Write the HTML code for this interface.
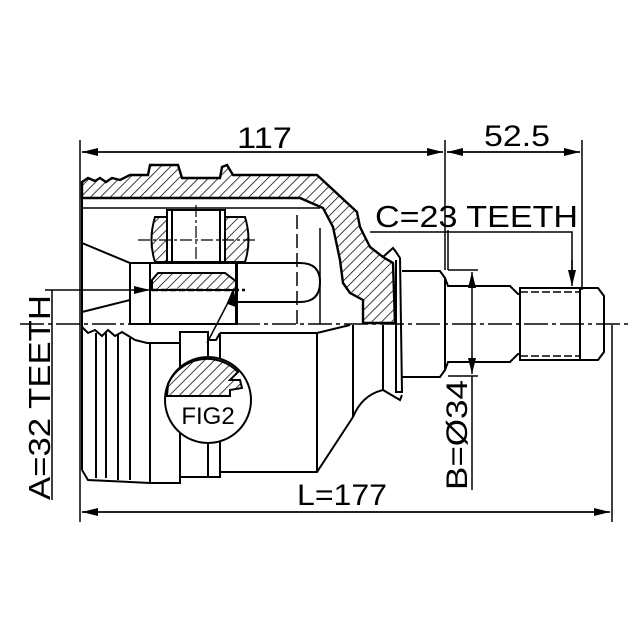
<!DOCTYPE html>
<html><head><style>body{margin:0;background:#fff}svg{display:block}</style></head><body>
<svg width="640" height="640" viewBox="0 0 640 640" xmlns="http://www.w3.org/2000/svg" font-family="Liberation Sans, sans-serif">
<defs>
<pattern id="h" width="7" height="7" patternUnits="userSpaceOnUse" patternTransform="rotate(45)">
<line x1="0" y1="0" x2="0" y2="7" stroke="#000" stroke-width="1.5"/></pattern>
<marker id="a" markerWidth="16" markerHeight="8" refX="16" refY="4" orient="auto" markerUnits="userSpaceOnUse"><path d="M0,0 L16,4 L0,8z" fill="#000"/></marker>
</defs>
<g stroke="#000" fill="none" stroke-width="1.5">
<line x1="80" y1="140" x2="80" y2="522"/>
<line x1="445" y1="140" x2="445" y2="270"/>
<line x1="582" y1="140" x2="582" y2="290"/>
<line x1="612" y1="325" x2="612" y2="522"/>
<line x1="82" y1="152" x2="443" y2="152" marker-end="url(#a)"/>
<line x1="443" y1="152" x2="82" y2="152" marker-end="url(#a)"/>
<line x1="447" y1="152" x2="580" y2="152" marker-end="url(#a)"/>
<line x1="580" y1="152" x2="447" y2="152" marker-end="url(#a)"/>
<line x1="82" y1="512" x2="610" y2="512" marker-end="url(#a)"/>
<line x1="610" y1="512" x2="82" y2="512" marker-end="url(#a)"/>
<line x1="52" y1="290" x2="52" y2="500"/>
<line x1="45" y1="290" x2="150" y2="290" marker-end="url(#a)"/>
<polyline points="370,232 572,232 572,283"/>
<line x1="572" y1="260" x2="572" y2="286" marker-end="url(#a)"/>
<line x1="448" y1="270" x2="478" y2="270"/><line x1="448" y1="376" x2="478" y2="376"/>
<line x1="472" y1="324" x2="472" y2="272" marker-end="url(#a)"/>
<line x1="472" y1="324" x2="472" y2="374" marker-end="url(#a)"/>
<line x1="472" y1="376" x2="472" y2="490"/>
<line x1="448" y1="270" x2="448" y2="230"/>
</g>
<path d="M82,190 L82,182 L88,178 L95,181 L100,178 L106,182 L112,178 L120,180 L130,175 L148,175 L150,165 L178,165 L182,178 L220,178 L222,167 L227,165 L233,175 L317,175 L357,212 L360,227 L370,247 L383,257 L393,263 L395,323 L363,323 L363,300 L350,293 L343,283 L340,260 L333,227 L323,208 L300,198 L82,198 Z" fill="url(#h)" stroke="#000" stroke-width="2.4"/>
<g stroke="#000" fill="none" stroke-width="2">
<line x1="82" y1="182" x2="82" y2="470"/>
<line x1="82" y1="208" x2="320" y2="208" stroke-width="1.5"/>
<path d="M155,217 L245,217 Q252,240 245,262 L155,262 Q148,240 155,217Z" fill="url(#h)"/>
<rect x="167" y="210" width="58" height="52" fill="#fff"/>
<line x1="172" y1="210" x2="172" y2="262"/><line x1="220" y1="210" x2="220" y2="262"/>
<line x1="138" y1="240" x2="255" y2="240" stroke-dasharray="12,3,3,3" stroke-width="1.2"/>
<line x1="196" y1="205" x2="196" y2="262" stroke-dasharray="12,3,3,3" stroke-width="1.2"/>
<rect x="130" y="263" width="107" height="61"/>
<line x1="150" y1="263" x2="150" y2="324"/><line x1="236" y1="263" x2="236" y2="324"/>
<path d="M237,263 L300,263 Q320,263 320,282 Q320,302 300,302 L237,302"/>
<line x1="82" y1="243" x2="130" y2="263"/><line x1="82" y1="312" x2="130" y2="300"/>
<line x1="297" y1="215" x2="297" y2="324" stroke-dasharray="14,5" stroke-width="1.5"/>
<line x1="320" y1="228" x2="320" y2="324" stroke-width="1.5"/>
<path d="M158,273 L225,273 L237,282 L235,290 L152,290 L152,280Z" fill="url(#h)"/>
<line x1="152" y1="290" x2="245" y2="290" stroke-width="2.4" stroke-dasharray="6,3"/>
<line x1="207" y1="343" x2="233" y2="293" stroke-width="1.5"/>
<path d="M233,291 L236,306 L228,303Z" fill="#000"/>
<line x1="20" y1="324" x2="630" y2="324" stroke-dasharray="24,4,4,4" stroke-width="1.4"/>
<path d="M82,327 L88,333 L95,330 L102,336 L108,330 L115,336 L122,332 L135,340 L147,343 L150,343 L150,483 L180,483 L180,477 L220,477 L220,472 L317,472 L353,417"/>
<path d="M82,470 L88,480 L150,483"/>
<line x1="96" y1="333" x2="96" y2="478"/><line x1="106" y1="333" x2="106" y2="478"/><line x1="118" y1="335" x2="118" y2="480"/><line x1="130" y1="338" x2="130" y2="480"/>
<path d="M150,343 L180,343 L180,332 L208,332 L208,340 L216,340 L220,333"/>
<line x1="180" y1="343" x2="180" y2="483"/><line x1="208" y1="340" x2="208" y2="477"/>
<line x1="220" y1="333" x2="220" y2="472"/>
<path d="M220,333 L317,333 L350,325"/>
<line x1="317" y1="333" x2="317" y2="472"/>
<path d="M353,325 L353,417 Q362,395 383,390 L400,400 L402,395"/>
<line x1="383" y1="325" x2="383" y2="390"/>
<path d="M383,257 L393,248 L396,252 L400,258 L402,392 L395,392"/>
<line x1="396" y1="260" x2="396" y2="392"/>
<path d="M402,271 L440,271 L445,278 L448,286 L510,286 L518,294 L520,294 L520,354 L518,354 L510,362 L448,362 L445,370 L440,377 L402,377"/>
<line x1="445" y1="278" x2="445" y2="370"/>
<path d="M520,288 L598,288 L604,296 L604,352 L598,360 L520,360Z"/>
<line x1="580" y1="288" x2="580" y2="360"/>
<line x1="520" y1="292" x2="580" y2="292" stroke-dasharray="8,3" stroke-width="1.5"/>
<line x1="520" y1="356" x2="580" y2="356" stroke-dasharray="8,3" stroke-width="1.5"/>
<circle cx="208" cy="400" r="43" fill="#fff"/>
<path d="M168,384 A43,43 0 0 1 238,372 L230,380 L240,380 L242,388 L230,390 L230,396 L167,396Z" fill="url(#h)"/>
</g>
<g fill="#000">
<text x="237" y="148" font-size="30" textLength="55" lengthAdjust="spacingAndGlyphs">117</text>
<text x="484" y="146" font-size="30" textLength="66" lengthAdjust="spacingAndGlyphs">52.5</text>
<text x="375" y="227" font-size="31" textLength="203" lengthAdjust="spacingAndGlyphs">C=23 TEETH</text>
<text x="297" y="505" font-size="30" textLength="90" lengthAdjust="spacingAndGlyphs">L=177</text>
<text x="208" y="424" text-anchor="middle" font-size="24">FIG2</text>
<text transform="translate(50,500) rotate(-90)" font-size="31" textLength="205" lengthAdjust="spacingAndGlyphs">A=32 TEETH</text>
<text transform="translate(467,490) rotate(-90)" font-size="30" textLength="110" lengthAdjust="spacingAndGlyphs">B=Ø34</text>
</g>
</svg>
</body></html>
